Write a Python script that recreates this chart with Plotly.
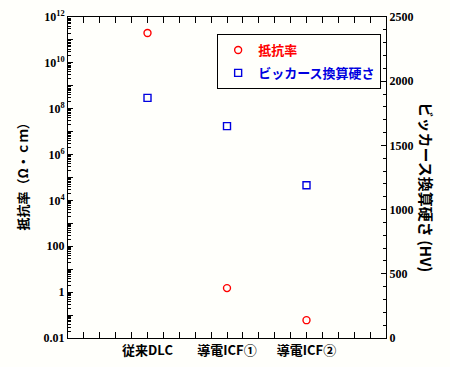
import plotly.graph_objects as go

categories = ["従来DLC", "導電ICF①", "導電ICF②"]
resistivity = [2e11, 1.5, 0.06]
hardness = [1870, 1650, 1190]

y_exp = list(range(-2, 13))
y_ticktext = {-2: "0.01", 0: "1", 2: "100", 4: "10<sup>4</sup>", 6: "10<sup>6</sup>",
              8: "10<sup>8</sup>", 10: "10<sup>10</sup>", 12: "10<sup>12</sup>"}

xpos = [i + 1 for i in range(len(categories))]
bg = "#fffffb"
tickfont = dict(family="Liberation Serif", size=12, color="black")

fig = go.Figure()
fig.add_trace(go.Scatter(
    x=xpos, y=resistivity, mode="markers", yaxis="y", legendgroup="a",
    name="<span style='color:#ff0000'><b>抵抗率</b></span>",
    marker=dict(symbol="circle-open", size=7, color="#ff0000", line=dict(width=1.4)),
))
fig.add_trace(go.Scatter(
    x=xpos, y=hardness, mode="markers", yaxis="y2", legendgroup="b",
    name="<span style='color:#0000e0'><b>ビッカース換算硬さ</b></span>",
    marker=dict(symbol="square-open", size=7, color="#0000e0", line=dict(width=1.4)),
))

fig.update_layout(
    width=450, height=367,
    margin=dict(l=68, r=64, t=17, b=29, autoexpand=False),
    paper_bgcolor=bg, plot_bgcolor=bg,
    showlegend=True,
    legend=dict(x=0.469, y=0.947, xanchor="left", yanchor="top",
                bordercolor="black", borderwidth=1, bgcolor=bg,
                font=dict(family="Noto Sans CJK JP", size=13),
                traceorder="grouped", tracegroupgap=3),
    xaxis=dict(range=[0, 4], tickvals=xpos, ticktext=[f"<b>{c}</b>" for c in categories],
               ticks="inside", ticklen=6, tickcolor="black", showgrid=False, zeroline=False,
               showline=True, linecolor="black", linewidth=1, mirror="allticks", tickangle=0,
               automargin=False,
               tickfont=dict(family="Noto Sans CJK JP", size=13, color="black"),
               minor=dict(dtick=0.2, tick0=0, ticks="inside", ticklen=3, tickcolor="black")),
    yaxis=dict(type="log", range=[-2, 12], tickvals=[10 ** e for e in y_exp],
               ticktext=[f"<b>{y_ticktext.get(e, '')}</b>" for e in y_exp],
               ticks="inside", ticklen=5, tickcolor="black", showgrid=False, zeroline=False,
               showline=True, linecolor="black", linewidth=1, tickfont=tickfont, automargin=False,
               minor=dict(dtick="D1", ticks="inside", ticklen=3, tickcolor="black")),
    yaxis2=dict(overlaying="y", side="right", range=[0, 2500], tickvals=[0, 500, 1000, 1500, 2000, 2500],
                ticktext=["<b>0</b>", "<b>500</b>", "<b>1000</b>", "<b>1500</b>", "<b>2000</b>", "<b>2500</b>"],
                ticks="inside", ticklen=5, tickcolor="black", showgrid=False, zeroline=False,
                showline=True, linecolor="black", linewidth=1, tickfont=tickfont, automargin=False,
                minor=dict(dtick=100, ticks="inside", ticklen=3, tickcolor="black")),
)

pw, ph = 450 - 68 - 64, 367 - 17 - 29
def px(x):
    return (x - 68) / pw
def py(y):
    return (367 - 29 - y) / ph

fig.add_annotation(text="<b>抵抗率（Ω・ｃｍ）</b>", x=px(10), y=py(174), xref="paper", yref="paper",
                   showarrow=False, textangle=-90,
                   font=dict(family="Noto Sans CJK JP", size=13, color="black"))
fig.add_annotation(text="<b>ビッカース換算硬さ (HV)</b>", x=px(439), y=py(187), xref="paper", yref="paper",
                   showarrow=False, textangle=90,
                   font=dict(family="Noto Sans CJK JP", size=15, color="black"))

fig.write_html("out.html")
